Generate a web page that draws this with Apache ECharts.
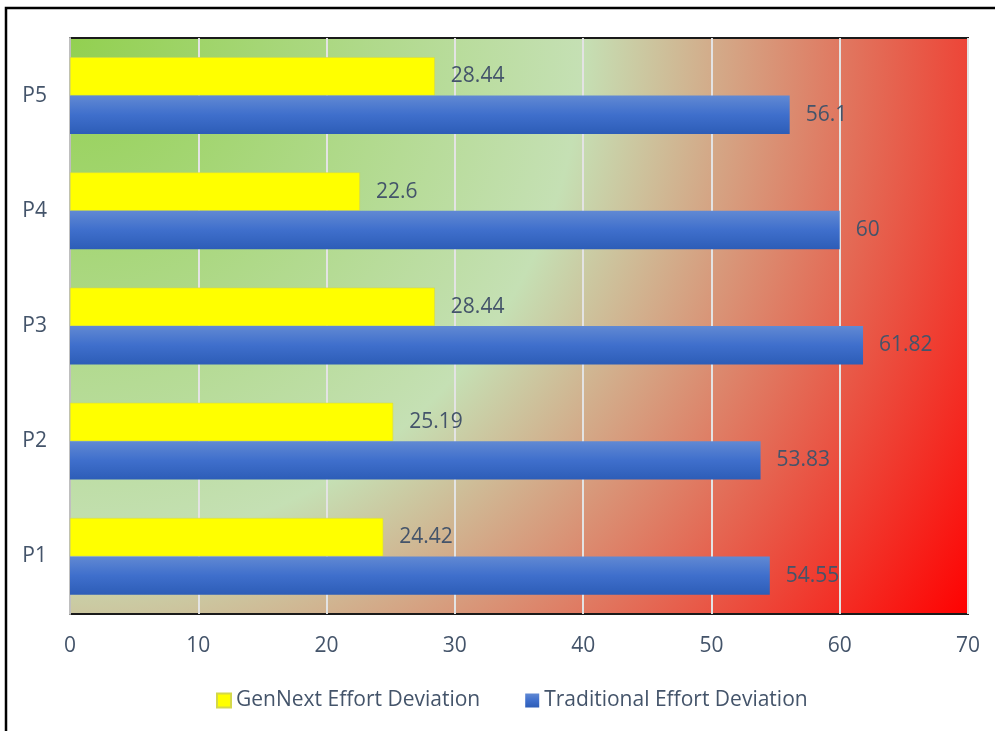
<!DOCTYPE html>
<html>
<head>
<meta charset="utf-8">
<script src="https://cdn.jsdelivr.net/npm/echarts@6/dist/echarts.min.js"></script>
<style>
  html, body { margin: 0; padding: 0; background: #ffffff; }
  #chart { width: 995px; height: 731px; }
</style>
</head>
<body>
<div id="chart"></div>
<script>
// Projects on the category axis (bottom to top)
const categories = ['P1', 'P2', 'P3', 'P4', 'P5'];

// Effort deviation per project
const genNextValues = [24.42, 25.19, 28.44, 22.6, 28.44];
const traditionalValues = [54.55, 53.83, 61.82, 60, 56.1];

// Value axis ticks
const xTicks = [0, 10, 20, 30, 40, 50, 60, 70];

const seriesNames = ['GenNext Effort Deviation', 'Traditional Effort Deviation'];

const textColor = '#44546a';
const fontFamily = '"Open Sans", "Noto Sans", sans-serif';

// Plot background: radial blend from the top-left corner, green to red
const plotBackground = {
  type: 'radial',
  x: 0, y: 0, r: 1.852,
  colorStops: [
    { offset: 0, color: '#92d050' },
    { offset: 0.48, color: '#c5e0b4' },
    { offset: 1, color: '#ff0000' }
  ]
};

const blueFill = {
  type: 'linear', x: 0, y: 0, x2: 0, y2: 1,
  colorStops: [
    { offset: 0, color: '#6189d3' },
    { offset: 0.5, color: '#3f6fcc' },
    { offset: 1, color: '#2d5db7' }
  ]
};

const chart = echarts.init(document.getElementById('chart'));

chart.setOption({
  backgroundColor: '#ffffff',
  animation: false,
  textStyle: { fontFamily: fontFamily },
  graphic: [{
    type: 'rect',
    shape: { x: 6, y: 8, width: 1100, height: 900 },
    style: { fill: 'none', stroke: '#000000', lineWidth: 2.5 },
    silent: true,
    z: 100
  }],
  grid: {
    left: 70, top: 38, right: 27, bottom: 117,
    containLabel: false,
    outerBoundsMode: 'none',
    show: true,
    backgroundColor: plotBackground,
    borderColor: '#1a1a1a',
    borderWidth: 2
  },
  legend: {
    bottom: 15,
    left: 211,
    itemWidth: 14,
    itemHeight: 14,
    itemGap: 45,
    icon: 'rect',
    textStyle: { color: textColor, fontSize: 21, fontFamily: fontFamily },
    data: seriesNames
  },
  xAxis: {
    type: 'value',
    min: xTicks[0],
    max: xTicks[xTicks.length - 1],
    interval: 10,
    axisLine: { show: false },
    axisTick: { show: false },
    axisLabel: { color: textColor, fontSize: 21, margin: 22 },
    splitLine: { show: true, lineStyle: { color: '#e3e3e3', width: 2 } }
  },
  yAxis: {
    type: 'category',
    data: categories,
    axisLine: { show: true, lineStyle: { color: '#bfbfbf', width: 2 } },
    axisTick: { show: false },
    axisLabel: { color: textColor, fontSize: 21, margin: 23 },
    splitLine: { show: false }
  },
  series: [
    {
      name: seriesNames[0],
      type: 'bar',
      data: genNextValues,
      barGap: '0%',
      barCategoryGap: '33.3%',
      itemStyle: { color: '#ffff00', borderColor: '#d4d84a', borderWidth: 0.6 },
      label: {
        show: true, position: 'right', distance: 16,
        color: textColor, fontSize: 21, fontFamily: fontFamily
      }
    },
    {
      name: seriesNames[1],
      type: 'bar',
      data: traditionalValues,
      barGap: '0%',
      barCategoryGap: '33.3%',
      itemStyle: { color: blueFill },
      label: {
        show: true, position: 'right', distance: 16,
        color: textColor, fontSize: 21, fontFamily: fontFamily
      }
    }
  ]
});
</script>
</body>
</html>
